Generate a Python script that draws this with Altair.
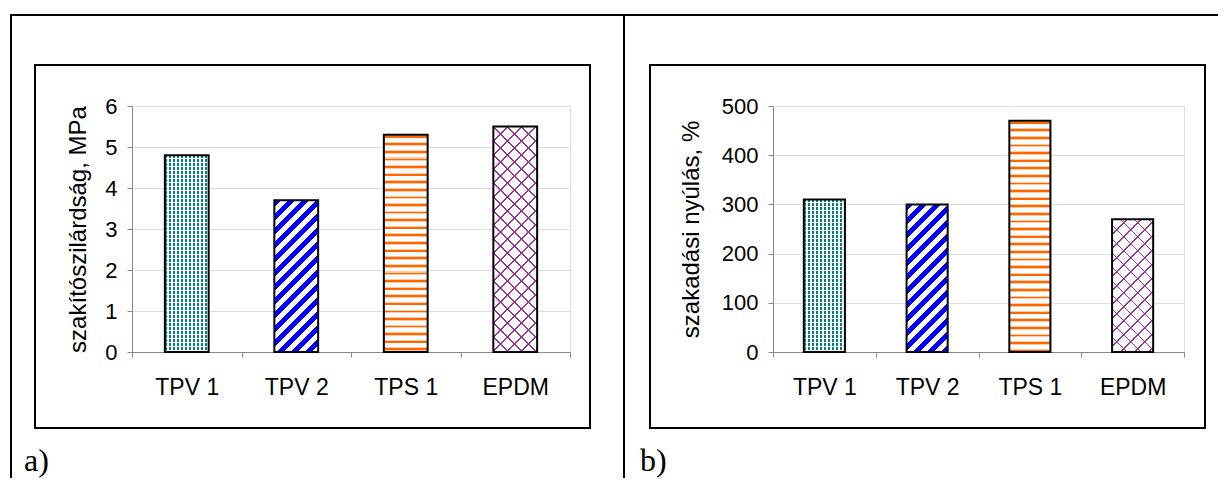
import altair as alt
import pandas as pd

# ---------------- data ----------------
categories = ["TPV 1", "TPV 2", "TPS 1", "EPDM"]
strength = [4.8, 3.7, 5.3, 5.5]            # MPa
elongation = [310, 300, 470, 270]          # %
strength_ticks = [0, 1, 2, 3, 4, 5, 6]
elongation_ticks = [0, 100, 200, 300, 400, 500]
title_a = "szakítószilárdság, MPa"
title_b = "szakadási nyúlás, %"
panel_labels = ["a)", "b)"]

# ---------------- style ----------------
NAVY = "#333399"
TEAL = "#008080"
BLUE = "#0000FF"
ORANGE = "#FF6600"
LIGHT_ORANGE = "#FFC9A3"
PURPLE = "#993399"
WHITE = "#FFFFFF"
CLEAR = "rgba(255,255,255,0)"
PLOT_H = 246
PLOT_W_A = 438
PLOT_W_B = 411
BAND = 0.4
SANS = "Liberation Sans"
SERIF = "Liberation Serif"


def make_stops(segments, span):
    """Hard-edged stripe stops over a length `span` (pixels) mapped to t in [0, 1]."""
    stops = []
    s = 0.0
    while s < span:
        for length, color in segments:
            if s >= span:
                break
            ta = s / span
            tb = min((s + length) / span, 1.0)
            stops.append({"offset": round(ta, 5), "color": color})
            stops.append({"offset": round(tb, 5), "color": color})
            s += length
    return stops


def g_horiz(segments, W, H):
    return {"gradient": "linear", "x1": 0, "y1": 0, "x2": 0, "y2": 1,
            "stops": make_stops(segments, H)}


def g_vert(segments, W, H):
    return {"gradient": "linear", "x1": 0, "y1": 0, "x2": 1, "y2": 0,
            "stops": make_stops(segments, W)}


def g_up(segments, W, H):
    # "/" stripes: t = (x + y) / (W + H)
    k = W * (W + H) / (W * W + H * H)
    return {"gradient": "linear", "x1": 0, "y1": 0, "x2": k, "y2": k * H / W,
            "stops": make_stops(segments, W + H)}


def g_down(segments, W, H):
    # "\" stripes: t = (x + H - y) / (W + H)
    k = W * (W + H) / (W * W + H * H)
    return {"gradient": "linear", "x1": 0, "y1": 1, "x2": k, "y2": 1 - k * H / W,
            "stops": make_stops(segments, W + H)}


PATTERNS = {
    "TPV 1": [(None, TEAL),
              (g_horiz, [(2.5, CLEAR), (1.5, WHITE)]),
              (g_vert, [(2.5, CLEAR), (1.5, WHITE)])],
    "TPV 2": [(g_up, [(6.5, BLUE), (7.5, WHITE)])],
    "TPS 1": [(g_horiz, [(1.0, LIGHT_ORANGE), (1.8, ORANGE), (0.8, LIGHT_ORANGE), (4.0, WHITE)])],
    "EPDM": [(g_up, [(1.8, PURPLE), (12.2, WHITE)]),
             (g_down, [(1.8, PURPLE), (12.2, CLEAR)])],
}


def rect_value(one, x, x2, y, y2):
    return alt.Chart(one).mark_rect(color="black", strokeWidth=0).encode(
        x=alt.value(x), x2=alt.value(x2), y=alt.value(y), y2=alt.value(y2))


def panel(values, ymax, ticks, title, plot_w, title_x, label, label_x, box, table):
    df = pd.DataFrame({"cat": categories, "val": values})
    one = pd.DataFrame({"k": [0]})
    W = BAND * plot_w / 4

    x_axis = alt.Axis(title=None, labelAngle=0, tickBand="extent", grid=False,
                      labelFontSize=23, labelBaseline="alphabetic", labelPadding=37)
    y_axis = alt.Axis(values=ticks, title=title, grid=True, labelPadding=10,
                      labelFontSize=22, titleX=title_x, titleY=PLOT_H / 2,
                      titleAngle=270, titleBaseline="alphabetic", titleAlign="center",
                      titleFont=SANS, titleFontSize=24, titleFontWeight="normal",
                      titleColor="black")
    enc = dict(
        x=alt.X("cat:N", sort=categories,
                scale=alt.Scale(domain=categories, paddingInner=0, paddingOuter=0),
                axis=x_axis),
        y=alt.Y("val:Q", scale=alt.Scale(domain=[0, ymax], nice=False), axis=y_axis),
    )

    layers = []
    # inner chart box
    layers.append(alt.Chart(one).mark_rect(fillOpacity=0, stroke="black", strokeWidth=2).encode(
        x=alt.value(box[0]), x2=alt.value(box[1]), y=alt.value(box[2]), y2=alt.value(box[3])))
    # table borders (thin filled rects)
    for (x, x2, y, y2) in table:
        layers.append(rect_value(one, x, x2, y, y2))

    # patterned bars
    for cat, v in zip(categories, values):
        H = v / ymax * PLOT_H
        for builder, spec in PATTERNS[cat]:
            fill = spec if builder is None else builder(spec, W, H)
            layers.append(
                alt.Chart(df).transform_filter(alt.datum.cat == cat)
                .mark_bar(width=alt.RelativeBandSize(BAND), fill=fill)
                .encode(**enc)
            )
    # outlines
    layers.append(alt.Chart(df).mark_bar(width=alt.RelativeBandSize(BAND), fillOpacity=0,
                                         stroke="black", strokeWidth=2).encode(**enc))
    # panel label
    layers.append(alt.Chart(one).mark_text(text=label, font=SERIF, fontSize=32, align="left",
                                           baseline="alphabetic", color="black").encode(
        x=alt.value(label_x), y=alt.value(365)))

    return alt.layer(*layers).properties(width=plot_w, height=PLOT_H)


# table grid lines drawn once, in panel a's coordinates (plot a origin at page x=132, y=106)
table_lines = [
    (-122, -120, -92, 372),    # left border
    (491, 493, -92, 372),      # middle divider
    (-122, 1086, -92, -90),    # top border
]

pa = panel(strength, 6, strength_ticks, title_a, PLOT_W_A, -47, panel_labels[0], -108,
           box=(-97, 458, -41, 322), table=table_lines)
pb = panel(elongation, 500, elongation_ticks, title_b, PLOT_W_B, -75, panel_labels[1], -133,
           box=(-123, 432, -41, 322), table=[])

chart = (
    alt.hconcat(pa, pb, spacing=203, bounds="flush")
    .properties(padding={"left": 1, "top": 5, "right": 0, "bottom": 0})
    .configure_view(stroke=NAVY, strokeWidth=2)
    .configure_axis(domainColor=NAVY, domainWidth=2, tickColor=NAVY, tickWidth=2, tickSize=8,
                    gridColor=NAVY, gridWidth=1, gridOpacity=1,
                    labelFont=SANS, labelColor="black", titleFont=SANS, titleFontSize=24,
                    titleFontWeight="normal", titleColor="black")
    .configure(background="white")
)

chart.save("out.html", embed_options={"renderer": "svg", "actions": False})
